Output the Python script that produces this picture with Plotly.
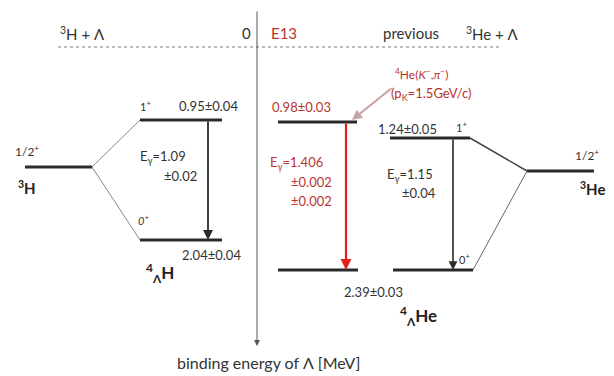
import plotly.graph_objects as go

# ---- data (schematic level diagram, binding energies of Lambda in MeV) ----
hyp_h_energies = ["0.95", "2.04"]        # 4_Lambda H : 1+, 0+
hyp_h_errors = ["0.04", "0.04"]
e13_energies = ["0.98", "2.39"]          # 4_Lambda He (E13)
e13_errors = ["0.03", "0.03"]
prev_energies = ["1.24", "2.39"]         # 4_Lambda He (previous)
prev_errors = ["0.05", "0.03"]
gamma_h = ["1.09", "0.02"]
gamma_e13 = ["1.406", "0.002", "0.002"]
gamma_prev = ["1.15", "0.04"]
header_labels = ["<sup>3</sup>H + Λ", "0", "E13", "previous", "<sup>3</sup>He + Λ"]

# diagram coordinates (schematic)
lvl_h_y = [120, 240]
lvl_e13_y = [122, 270]
lvl_prev_y = [138, 270]
core_h_y = 167
core_he_y = 171

BLACK = "#2a2a2a"
TXT = "#333333"
RED_T = "#b8352c"
RED = "#e0201c"
FONT = "Lato"

fig = go.Figure()

def seg(x0, y0, x1, y1, color=BLACK, width=3, dash="solid"):
    fig.add_trace(go.Scatter(x=[x0, x1], y=[y0, y1], mode="lines",
                             line=dict(color=color, width=width, dash=dash),
                             hoverinfo="skip", showlegend=False))

# separator dashed line (threshold = 0)
seg(58, 47, 500, 47, color="#bdbdbd", width=2, dash="dot")

# 3H core and 4_Lambda H
seg(25, core_h_y, 92, core_h_y)
seg(140, lvl_h_y[0], 222, lvl_h_y[0])
seg(140, lvl_h_y[1], 222, lvl_h_y[1])
seg(92, core_h_y, 140, lvl_h_y[0], color="#888888", width=1)
seg(92, core_h_y, 140, lvl_h_y[1], color="#888888", width=1)

# E13
seg(278, lvl_e13_y[0], 357, lvl_e13_y[0])
seg(278, lvl_e13_y[1], 358, lvl_e13_y[1])

# previous and 3He core
seg(390, lvl_prev_y[0], 470, lvl_prev_y[0])
seg(393, lvl_prev_y[1], 473, lvl_prev_y[1])
seg(527, core_he_y, 594, core_he_y)
seg(470, lvl_prev_y[0], 527, core_he_y, color="#444444", width=1.5)
seg(473, lvl_prev_y[1], 527, core_he_y, color="#666666", width=1)

def arrow(x0, y0, x1, y1, color, width, head=2, size=1):
    fig.add_annotation(x=x1, y=y1, ax=x0, ay=y0, xref="x", yref="y",
                       axref="x", ayref="y", text="", showarrow=True,
                       arrowhead=head, arrowsize=size, arrowwidth=width,
                       arrowcolor=color)

# vertical binding-energy axis
arrow(257, 10, 257, 346, "#555555", 1, head=2, size=1.2)
# gamma transitions
arrow(208, lvl_h_y[0], 208, lvl_h_y[1], BLACK, 1.8, head=2, size=1.1)
arrow(346, lvl_e13_y[0], 346, lvl_e13_y[1], RED, 2.2, head=2, size=1.0)
arrow(453, lvl_prev_y[0], 453, lvl_prev_y[1], BLACK, 1.6, head=2, size=1.1)
# reaction pointer
arrow(393, 87, 352, 120, "#c9a3a3", 2, head=2, size=1.0)

def txt(x, y, s, size=13, color=TXT, xanchor="center", bold=False):
    if bold:
        s = "<b>" + s + "</b>"
    fig.add_annotation(x=x, y=y, text=s, showarrow=False, xref="x", yref="y",
                       xanchor=xanchor, yanchor="middle",
                       font=dict(family=FONT, size=size, color=color))

# header
txt(82, 33, header_labels[0], 15)
txt(246, 33, header_labels[1], 15)
txt(284, 33, header_labels[2], 15, RED_T)
txt(411, 33, header_labels[3], 15)
txt(492, 33, header_labels[4], 15)

# left side labels
txt(27, 151, "1/2<sup>+</sup>", 12)
txt(27, 187, "<sup>3</sup>H", 15, "#222222", bold=True)
txt(145, 105, "1<sup>+</sup>", 11)
txt(208, 106, hyp_h_energies[0] + "±" + hyp_h_errors[0], 13)
txt(138, 157, "E<sub>γ</sub>=" + gamma_h[0], 13, xanchor="left")
txt(180, 176, "±" + gamma_h[1], 13)
txt(143, 219, "<i>0<sup>+</sup></i>", 11)
txt(211, 255, hyp_h_energies[1] + "±" + hyp_h_errors[1], 13)
txt(160, 273, "<sup>4</sup><sub>Λ</sub>H", 17, "#222222", bold=True)

# E13 labels
txt(301, 107, e13_energies[0] + "±" + e13_errors[0], 13, RED_T)
txt(421, 74, "<sup>4</sup>He(<i>K</i><sup>−</sup>,<i>π</i><sup>−</sup>)", 12, RED_T)
txt(431, 94, "(p<sub>K</sub>=1.5GeV/c)", 13, RED_T)
txt(268, 163, "E<sub>γ</sub>=" + gamma_e13[0], 13, RED_T, xanchor="left")
txt(311, 182, "±" + gamma_e13[1], 13, RED_T)
txt(311, 201, "±" + gamma_e13[2], 13, RED_T)
txt(373, 292, e13_energies[1] + "±" + e13_errors[1], 13)
txt(418, 316, "<sup>4</sup><sub>Λ</sub>He", 17, "#222222", bold=True)

# previous labels
txt(407, 129, prev_energies[0] + "±" + prev_errors[0], 13)
txt(461, 126, "1<sup>+</sup>", 11)
txt(385, 175, "E<sub>γ</sub>=" + gamma_prev[0], 13, xanchor="left")
txt(419, 193, "±" + gamma_prev[1], 13)
txt(464, 258, "0<sup>+</sup>", 11)
txt(587, 155, "1/2<sup>+</sup>", 12)
txt(592, 188, "<sup>3</sup>He", 15, "#222222", bold=True)

# axis title
txt(268, 362, "binding energy of Λ [MeV]", 16)

fig.update_layout(
    width=614, height=376,
    margin=dict(l=0, r=0, t=0, b=0),
    paper_bgcolor="white", plot_bgcolor="white",
    xaxis=dict(range=[0, 614], visible=False, fixedrange=True),
    yaxis=dict(range=[376, 0], visible=False, fixedrange=True),
    showlegend=False,
)

fig.write_html("out.html")
